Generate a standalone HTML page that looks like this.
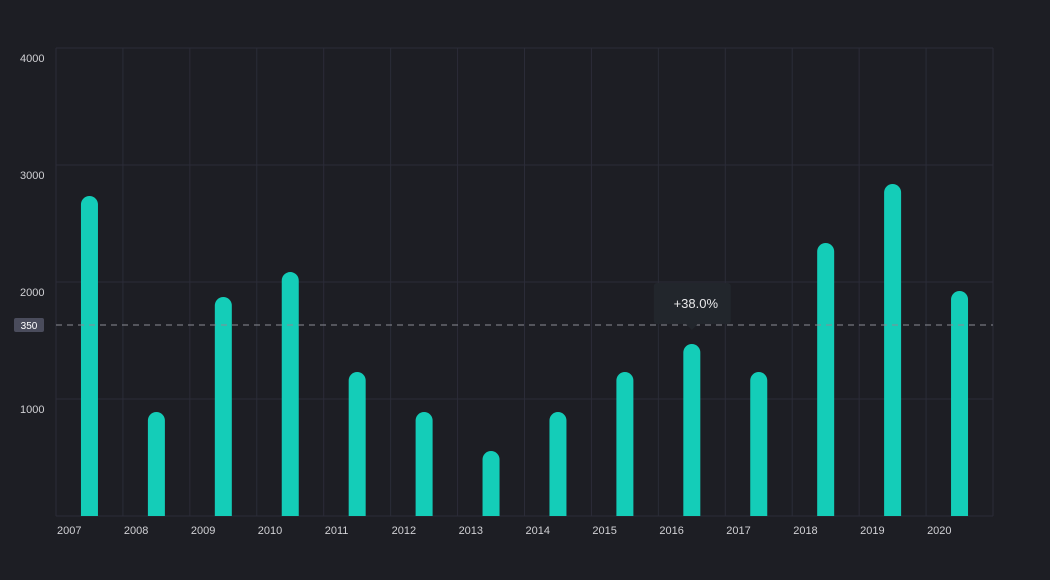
<!DOCTYPE html>
<html><head><meta charset="utf-8"><style>
html,body{margin:0;padding:0;background:#1d1e24;}
svg{display:block;font-family:"Liberation Sans",sans-serif;}
</style></head><body>
<svg id="chart" width="1050" height="580"></svg>
<script>
const categories=["2007","2008","2009","2010","2011","2012","2013","2014","2015","2016","2017","2018","2019","2020"];
const values=[2735,889,1872,2085,1231,889,556,889,1231,1470,1231,2333,2838,1923];
const yTicks=[1000,2000,3000,4000];
const refValue=1632;
const refLabel="350";
const tooltipIndex=9;
const tooltipText="+38.0%";
const NS="http://www.w3.org/2000/svg";
const svg=document.getElementById('chart');
const L=56,R=993,T=48,B=516,yMax=4000;
const colW=(R-L)/categories.length;
const y=v=>B-(v/yMax)*(B-T);
const xc=i=>L+colW*(i+0.5);
function mk(tag,attrs,parent){const e=document.createElementNS(NS,tag);for(const k in attrs)e.setAttribute(k,attrs[k]);(parent||svg).appendChild(e);return e;}
// frame & grid
const grid=mk('g',{});


for(let i=0;i<=categories.length;i++){mk('line',{x1:L+colW*i,x2:L+colW*i,y1:T,y2:B,stroke:'#2b2c38','stroke-width':1},grid);}
[0].concat(yTicks).forEach(t=>mk('line',{x1:L,x2:R,y1:y(t),y2:y(t),stroke:'#2b2c38','stroke-width':1},grid));
yTicks.forEach(t=>{const tx=mk('text',{x:20,y:y(t)+14,fill:'#d0d0d4','font-size':11});tx.textContent=t;

});
categories.forEach((c,i)=>{const tx=mk('text',{x:L+colW*i+1,y:534,fill:'#d0d0d4','font-size':11});tx.textContent=c;

});
// bars
values.forEach((v,i)=>{const w=17,top=y(v);
const p=mk('path',{d:`M${xc(i)-w/2},${B} L${xc(i)-w/2},${top+w/2} A${w/2},${w/2} 0 0 1 ${xc(i)+w/2},${top+w/2} L${xc(i)+w/2},${B} Z`,fill:'#14cdb8'});

});
// reference line
const ry=y(refValue);
const rl=mk('line',{x1:L,x2:R,y1:ry,y2:ry,stroke:'#8a8c94','stroke-width':1,'stroke-dasharray':'6,5'});


const rb=mk('rect',{x:14,y:ry-7,width:30,height:14,rx:2,fill:'#4a4c5c'});


const rt=mk('text',{x:29,y:ry+4,fill:'#fff','font-size':10,'text-anchor':'middle'});rt.textContent=refLabel;


// tooltip
const tx0=xc(tooltipIndex);
const tg=mk('g',{});


mk('rect',{x:tx0-38,y:283,width:77,height:41,rx:3,fill:'#22262c'},tg);
mk('path',{d:`M${tx0-6},324 L${tx0},330 L${tx0+6},324 Z`,fill:'#22262c'},tg);
const tt=mk('text',{x:tx0+4,y:308,fill:'#e8e8ea','font-size':13,'text-anchor':'middle'},tg);tt.textContent=tooltipText;
</script>
</body></html>
